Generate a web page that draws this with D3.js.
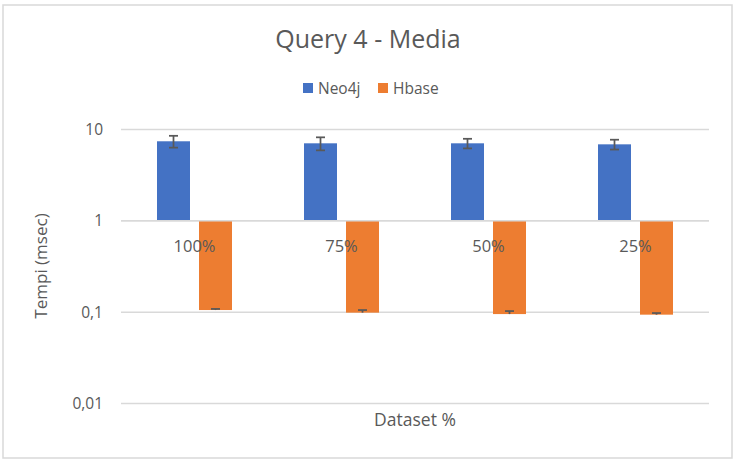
<!DOCTYPE html>
<html>
<head>
<meta charset="utf-8">
<script src="https://cdn.jsdelivr.net/npm/d3@7"></script>
<style>
  html, body { margin: 0; padding: 0; background: #fff; }
  svg { display: block; }
  text { font-family: "Segoe UI", "Open Sans", "Noto Sans", sans-serif; fill: #595959; }
</style>
</head>
<body>
<svg id="chart" width="737" height="462"></svg>
<script>
const categories = ["100%", "75%", "50%", "25%"];
const seriesNames = ["Neo4j", "Hbase"];
const neo4jValues = [7.43, 7.06, 7.06, 6.88];
const neo4jErr = [1.1, 1.15, 0.85, 0.85];
const hbaseValues = [0.1055, 0.0988, 0.0953, 0.0939];
const hbaseErr = [0.003, 0.0067, 0.0075, 0.0039];
const yTicks = [0.01, 0.1, 1, 10];
const yTickLabels = ["0,01", "0,1", "1", "10"];
const colors = ["#4472C4", "#ED7D31"];

(function () {
const svg = d3.select("#chart");

// border
svg.append("rect").attr("x", 3).attr("y", 5).attr("width", 729).attr("height", 453)
  .attr("fill", "#fff").attr("stroke", "#d9d9d9").attr("stroke-width", 1.5);

const plotL = 121, plotR = 709, plotT = 129.5, plotB = 403.5;
const y = d3.scaleLog().domain([0.01, 10]).range([plotB, plotT]);
const x0 = d3.scaleBand().domain(categories).range([plotL, plotR]).padding(0);
const groupW = 75;
const x1 = d3.scaleBand().domain(seriesNames).range([0, groupW]).paddingInner(0.2143).paddingOuter(0);

// gridlines
svg.append("g").selectAll("line").data(yTicks).join("line")
  .attr("x1", plotL).attr("x2", plotR)
  .attr("y1", d => y(d)).attr("y2", d => y(d))
  .attr("stroke", "#d9d9d9").attr("stroke-width", 1.5);

// y tick labels
svg.append("g").selectAll("text").data(yTicks).join("text")
  .attr("x", 103).attr("y", d => y(d)).attr("dy", "0.35em")
  .attr("text-anchor", "end").style("font-size", "15.5px")
  .text((d, i) => yTickLabels[i]);

const data = [
  { name: "Neo4j", values: neo4jValues, err: neo4jErr, both: true },
  { name: "Hbase", values: hbaseValues, err: hbaseErr, both: false }
];

const base = y(1);
data.forEach((s, si) => {
  const g = svg.append("g");
  g.selectAll("rect").data(s.values).join("rect")
    .attr("x", (d, i) => x0(categories[i]) + (x0.bandwidth() - groupW) / 2 + x1(s.name))
    .attr("width", x1.bandwidth())
    .attr("y", d => Math.min(y(d), base))
    .attr("height", d => Math.abs(y(d) - base))
    .attr("fill", colors[si]);
});

// axis line at 1 (category axis)
svg.append("line").attr("x1", plotL).attr("x2", plotR).attr("y1", base).attr("y2", base)
  .attr("stroke", "#d9d9d9").attr("stroke-width", 1.5);

// error bars
data.forEach((s) => {
  const g = svg.append("g").attr("stroke", "#595959").attr("stroke-width", 1.75);
  s.values.forEach((v, i) => {
    const cx = x0(categories[i]) + (x0.bandwidth() - groupW) / 2 + x1(s.name) + x1.bandwidth() / 2;
    const hi = y(v + s.err[i]);
    const lo = s.both ? y(v - s.err[i]) : y(v);
    g.append("line").attr("x1", cx).attr("x2", cx).attr("y1", hi).attr("y2", lo);
    g.append("line").attr("x1", cx - 4.5).attr("x2", cx + 4.5).attr("y1", hi).attr("y2", hi);
    if (s.both) g.append("line").attr("x1", cx - 4.5).attr("x2", cx + 4.5).attr("y1", lo).attr("y2", lo);
  });
});

// category labels
svg.append("g").selectAll("text").data(categories).join("text")
  .attr("x", d => x0(d) + x0.bandwidth() / 2).attr("y", base + 31)
  .attr("text-anchor", "middle").style("font-size", "16.5px")
  .text(d => d);

// title
svg.append("text").attr("x", 368).attr("y", 48).attr("text-anchor", "middle")
  .style("font-size", "25px").text("Query 4 - Media");

// legend
const legend = svg.append("g");
const legendX = [303, 378];
seriesNames.forEach((n, i) => {
  legend.append("rect").attr("x", legendX[i]).attr("y", 83).attr("width", 10).attr("height", 10).attr("fill", colors[i]);
  legend.append("text").attr("x", legendX[i] + 15).attr("y", 94).style("font-size", "15.5px").text(n);
});

// axis titles
svg.append("text").attr("x", 415).attr("y", 426).attr("text-anchor", "middle")
  .style("font-size", "17.5px").text("Dataset %");
svg.append("text").attr("transform", "translate(47,266) rotate(-90)").attr("text-anchor", "middle")
  .style("font-size", "17px").text("Tempi (msec)");
})();
</script>
</body>
</html>
